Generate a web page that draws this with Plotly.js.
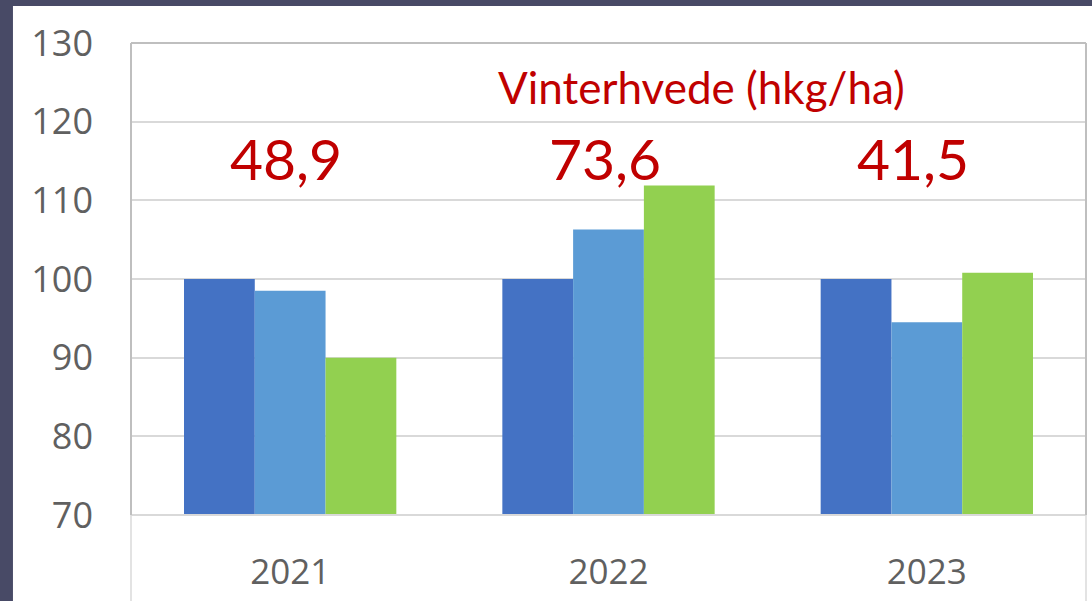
<!DOCTYPE html>
<html><head><meta charset="utf-8">
<script src="https://cdn.plot.ly/plotly-3.0.1.min.js"></script>
<style>html,body{margin:0;padding:0;background:#484a66;}</style>
</head><body>
<div id="chart" style="width:1092px;height:601px;"></div>
<script>
const years = ["2021", "2022", "2023"];
const seriesA = [100, 100, 100];
const seriesB = [98.5, 106.3, 94.5];
const seriesC = [90.0, 111.9, 100.8];
const yieldLabels = ["48,9", "73,6", "41,5"];
const yTicks = [70, 80, 90, 100, 110, 120, 130];
const chartTitle = "Vinterhvede (hkg/ha)";

const colors = ["#4472c4", "#5b9bd5", "#92d050"];
const traces = [seriesA, seriesB, seriesC].map((v, i) => ({
  type: "bar", x: years, y: v, marker: {color: colors[i]}, hoverinfo: "none"
}));

const annotations = years.map((yr, i) => ({
  x: i, y: 115.35, xref: "x", yref: "y", text: yieldLabels[i], showarrow: false,
  xshift: [-4, -4, -14][i],
  font: {family: "Lato, 'Open Sans', sans-serif", size: 57, color: "#c00000"}
}));
annotations.push({
  x: 0.597, y: 124.4, xref: "paper", yref: "y", text: chartTitle, showarrow: false,
  font: {family: "Lato, 'Open Sans', sans-serif", size: 44, color: "#c00000"}
});

const layout = {
  width: 1092, height: 601,
  margin: {l: 131, r: 6, t: 43, b: 86},
  paper_bgcolor: "#484a66", plot_bgcolor: "#ffffff",
  bargap: 0.333, barmode: "group", showlegend: false,
  xaxis: {
    type: "category", range: [-0.5, 2.5], showgrid: false, zeroline: false, showline: false,
    ticks: "", ticklabelstandoff: 33,
    tickfont: {family: "'Open Sans', sans-serif", size: 35, color: "#606060"}
  },
  yaxis: {
    range: [70, 130], tickvals: yTicks, showgrid: true, gridcolor: "#d9d9d9", gridwidth: 2,
    zeroline: false, showline: false, ticks: "", ticklabelstandoff: 37,
    tickfont: {family: "'Open Sans', sans-serif", size: 36, color: "#606060"}
  },
  shapes: [
    {type: "rect", xref: "paper", yref: "paper", x0: -0.1236, x1: 1.0063, y0: -0.1822, y1: 1.0784,
     fillcolor: "#ffffff", line: {width: 0}, layer: "below"},
    {type: "line", xref: "paper", yref: "paper", x0: 0, x1: 0, y0: -0.1822, y1: 0, line: {color: "#e3e3e3", width: 2}},
    {type: "line", xref: "paper", yref: "paper", x0: 1, x1: 1, y0: -0.1822, y1: 0, line: {color: "#e3e3e3", width: 2}},
    {type: "line", xref: "paper", yref: "paper", x0: 0, x1: 1, y0: 0, y1: 0, line: {color: "#d9d9d9", width: 2}},
    {type: "line", xref: "paper", yref: "paper", x0: 0, x1: 0, y0: 0, y1: 1, line: {color: "#bfbfbf", width: 2}},
    {type: "line", xref: "paper", yref: "paper", x0: 1, x1: 1, y0: 0, y1: 1, line: {color: "#bfbfbf", width: 2}},
    {type: "line", xref: "paper", yref: "paper", x0: 0, x1: 1, y0: 1, y1: 1, line: {color: "#bfbfbf", width: 2}}
  ],
  annotations: annotations
};

Plotly.newPlot("chart", traces, layout, {staticPlot: true, displayModeBar: false});
</script>
</body></html>
